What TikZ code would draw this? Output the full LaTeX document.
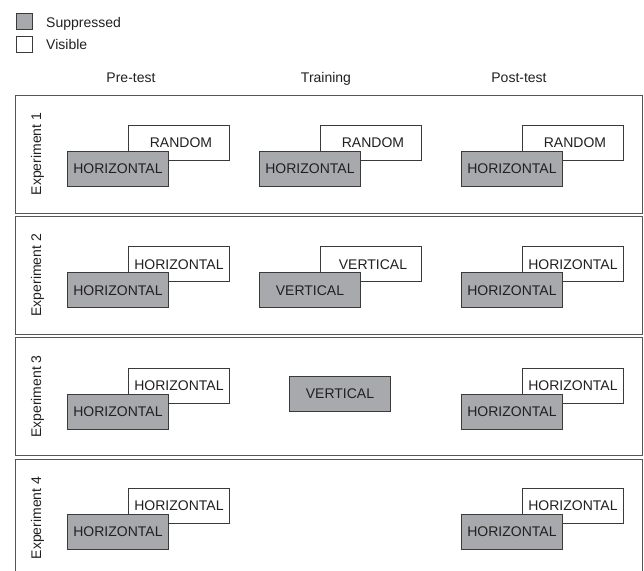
\documentclass[tikz,border=0pt]{standalone}
\usepackage{fontspec}
\setmainfont{Liberation Sans}
\definecolor{ink}{HTML}{231F20}
\definecolor{supfill}{HTML}{A7A9AC}
\definecolor{edge}{HTML}{3A3A3A}
\definecolor{frame}{HTML}{555555}
\begin{document}
\begin{tikzpicture}[x=1pt,y=-1pt,
  every node/.style={text=ink,font=\fontsize{14}{16}\selectfont},
  boxbase/.style={draw=edge,line width=0.9pt,minimum width=101pt,minimum height=35pt,inner sep=0pt,anchor=north west},
  vis/.style={boxbase,fill=white},
  sup/.style={boxbase,fill=supfill},
  panel/.style={draw=frame,line width=1pt},
  lab/.style={rotate=90,anchor=center},
  hdr/.style={anchor=base},
  legsq/.style={draw=edge,line width=0.9pt,minimum size=16pt,inner sep=0pt,anchor=north west}]
\useasboundingbox (0,0) rectangle (644,570);
\clip (0,0) rectangle (644,570);
% legend
\node[legsq,fill=supfill] (lsup) at (16,13.3) {};
\node[legsq,fill=white] (lvis) at (16,36) {};
\node[anchor=base west,inner sep=0pt] (tsup) at (46,27) {Suppressed};
\node[anchor=base west,inner sep=0pt] (tvis) at (46,49.5) {Visible};
% headers
\node[hdr] (h1) at (131,82) {Pre-test};
\node[hdr] (h2) at (326,82) {Training};
\node[hdr] (h3) at (519,82) {Post-test};
% panels
\draw[panel] (15,95) rectangle (642,213);
\draw[panel] (15,216.3) rectangle (642,334.3);
\draw[panel] (15,337.6) rectangle (642,455.6);
\draw[panel] (15,459) rectangle (642,580);
\node[lab] (e1) at (37.5,154) {Experiment 1};
\node[lab] (e2) at (37.5,275.3) {Experiment 2};
\node[lab] (e3) at (37.5,396.6) {Experiment 3};
\node[lab] (e4) at (37.5,518) {Experiment 4};
% Experiment 1
\node[vis] (a1v) at (128,125) {\hspace{4pt}RANDOM};
\node[sup] (a1s) at (67,151) {HORIZONTAL};
\node[vis] (b1v) at (320,125) {\hspace{4pt}RANDOM};
\node[sup] (b1s) at (259,151) {HORIZONTAL};
\node[vis] (c1v) at (522,125) {\hspace{4pt}RANDOM};
\node[sup] (c1s) at (461,151) {HORIZONTAL};
% Experiment 2
\node[vis] (a2v) at (128,246.3) {HORIZONTAL};
\node[sup] (a2s) at (67,272.3) {HORIZONTAL};
\node[vis] (b2v) at (320,246.3) {\hspace{4pt}VERTICAL};
\node[sup] (b2s) at (259,272.3) {VERTICAL};
\node[vis] (c2v) at (522,246.3) {HORIZONTAL};
\node[sup] (c2s) at (461,272.3) {HORIZONTAL};
% Experiment 3
\node[vis] (a3v) at (128,367.6) {HORIZONTAL};
\node[sup] (a3s) at (67,393.6) {HORIZONTAL};
\node[sup] (b3s) at (289,375.5) {VERTICAL};
\node[vis] (c3v) at (522,367.6) {HORIZONTAL};
\node[sup] (c3s) at (461,393.6) {HORIZONTAL};
% Experiment 4
\node[vis] (a4v) at (128,488) {HORIZONTAL};
\node[sup] (a4s) at (67,514) {HORIZONTAL};
\node[vis] (c4v) at (522,488) {HORIZONTAL};
\node[sup] (c4s) at (461,514) {HORIZONTAL};
\end{tikzpicture}
\end{document}
